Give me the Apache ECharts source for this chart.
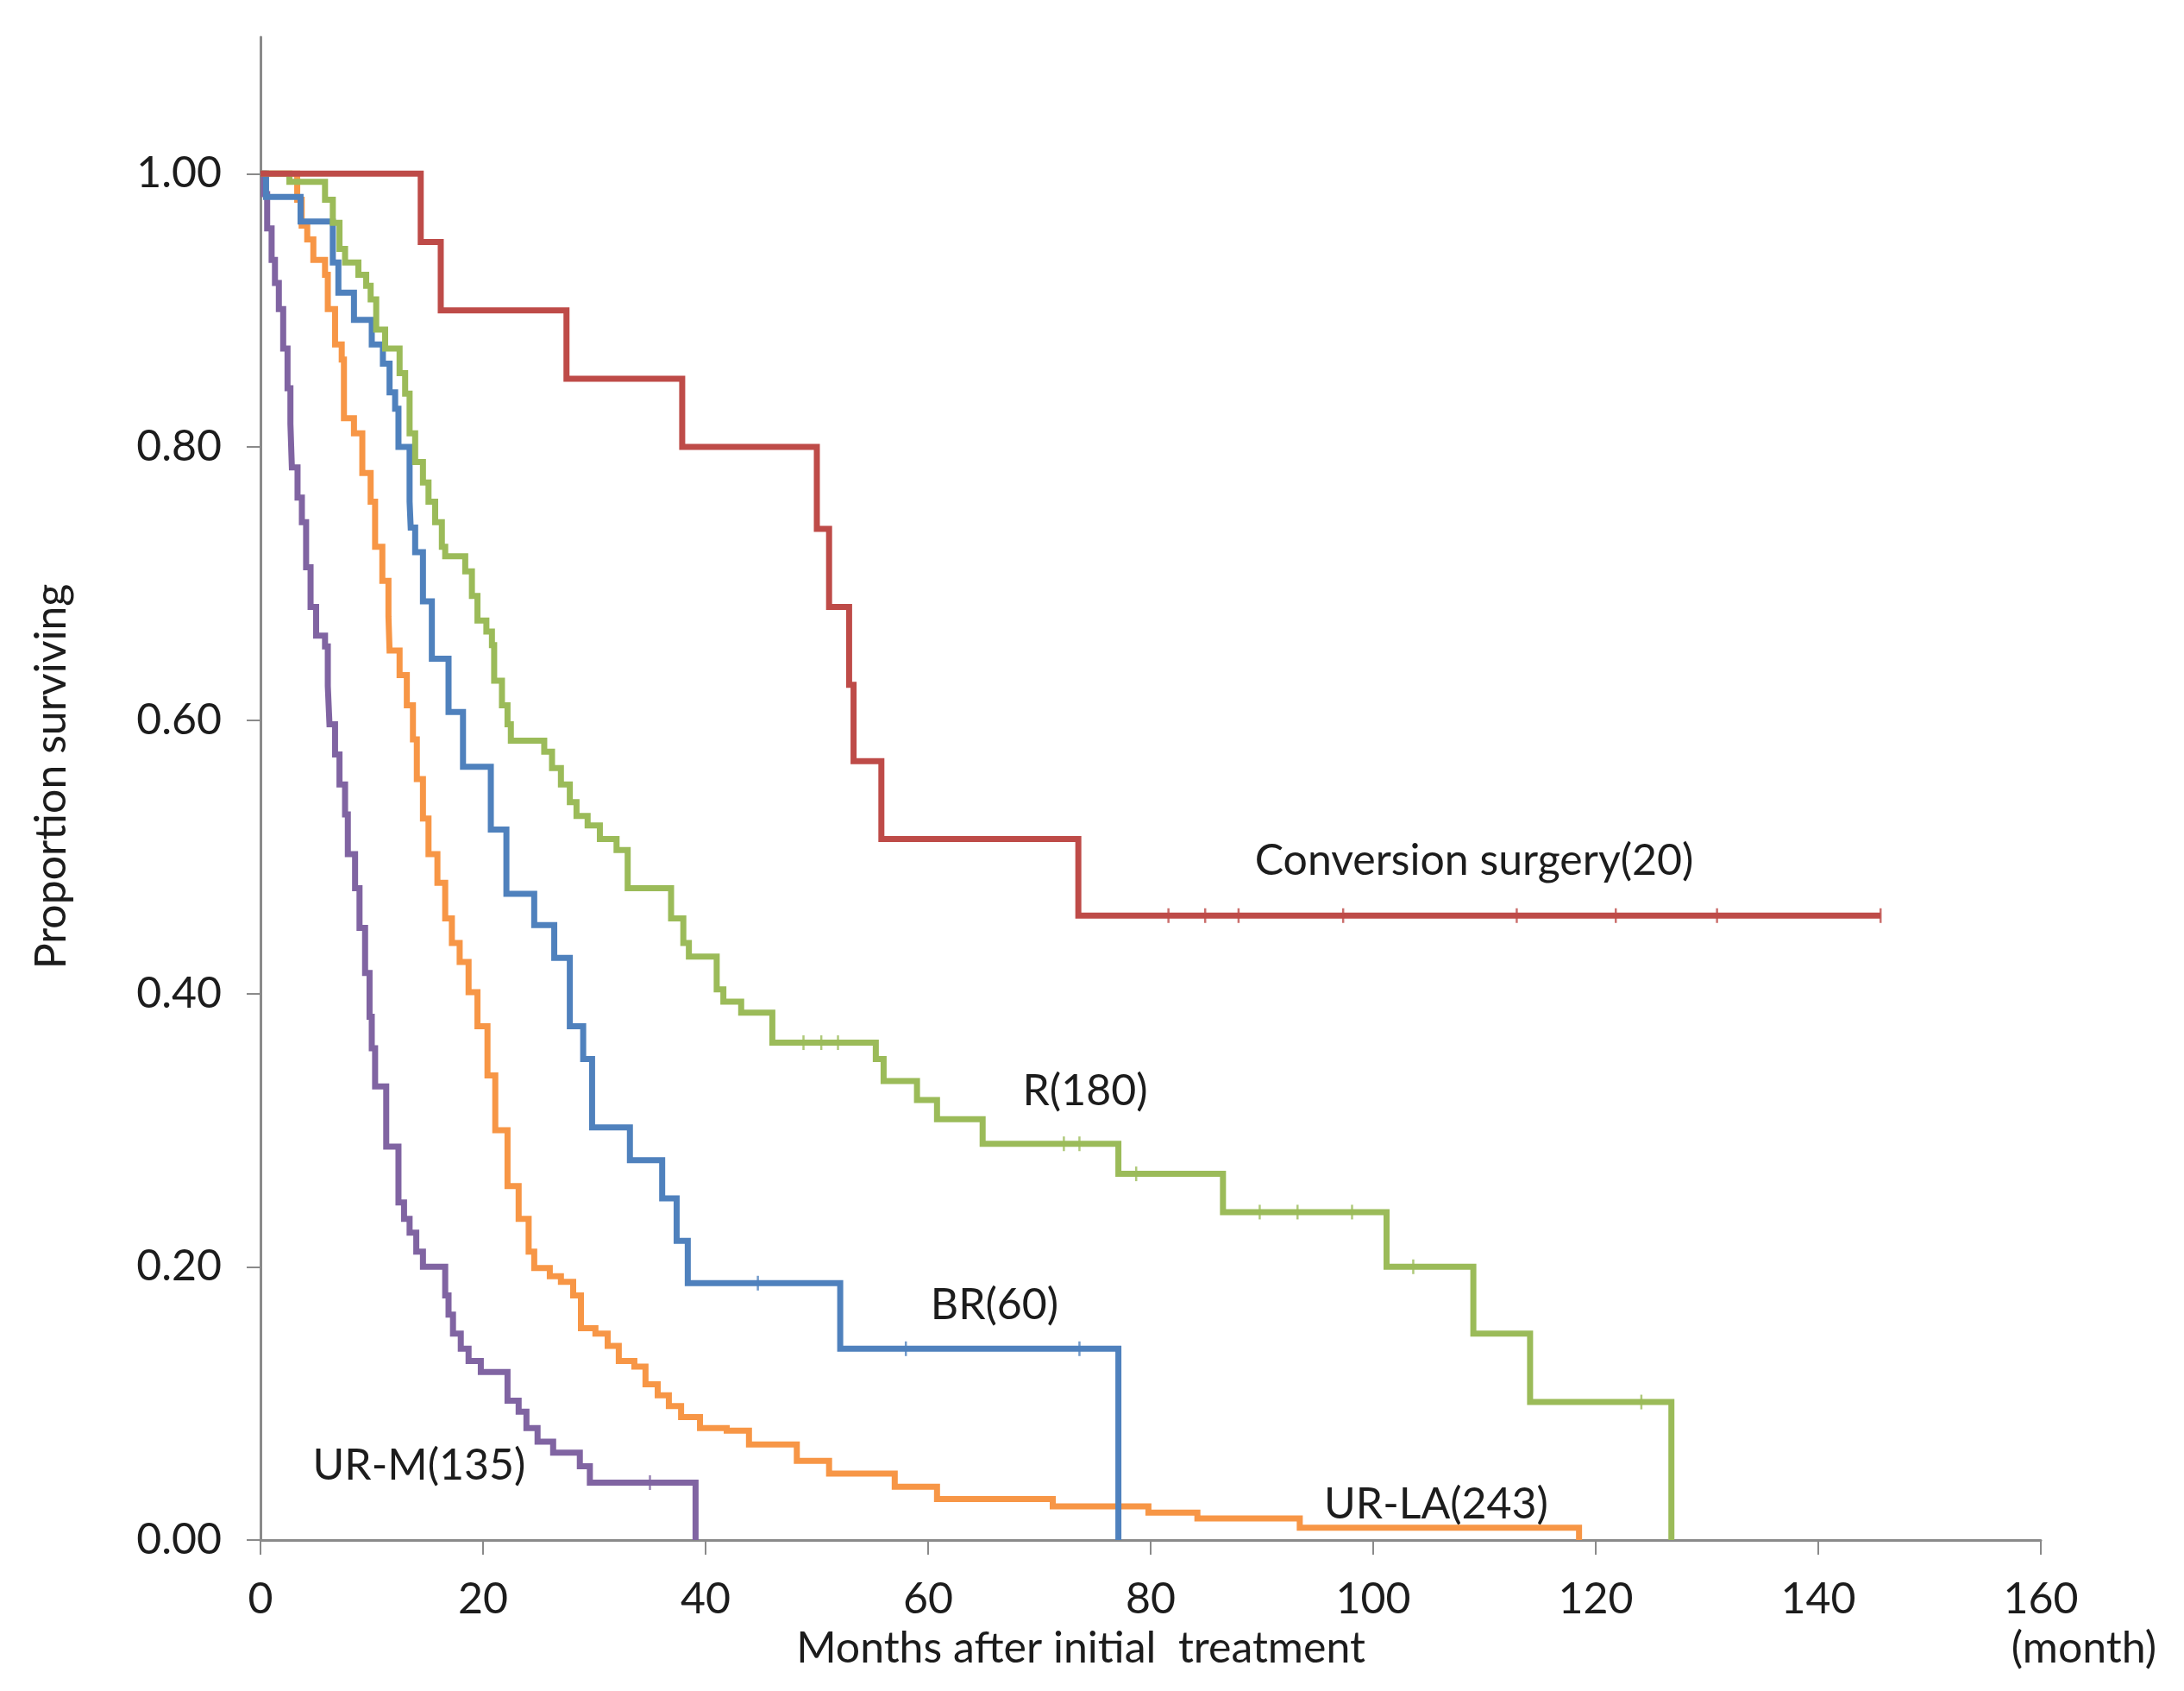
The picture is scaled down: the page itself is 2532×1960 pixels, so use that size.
<!DOCTYPE html>
<html>
<head>
<meta charset="utf-8">
<script src="https://cdn.jsdelivr.net/npm/echarts@6/dist/echarts.min.js"></script>
<style>
  html, body { margin: 0; padding: 0; background: #ffffff; }
  #chart { width: 2532px; height: 1960px; }
</style>
</head>
<body>
<div id="chart"></div>
<script>
// ---- Data (months after initial treatment, proportion surviving after each step) ----
const yTickValues = [0, 0.2, 0.4, 0.6, 0.8, 1.0];

const csTime = [0, 14.4, 16.2, 27.5, 37.9, 50.0, 51.1, 52.9, 53.3, 55.8, 73.5, 145.6];
const csSurv = [1.0, 0.95, 0.90, 0.85, 0.80, 0.74, 0.683, 0.626, 0.57, 0.513, 0.457, 0.457];
const csCensorTime = [81.6, 84.9, 87.9, 97.3, 112.9, 121.8, 130.9, 145.6];
const csCensorSurv = [0.457, 0.457, 0.457, 0.457, 0.457, 0.457, 0.457, 0.457];

const rTime = [0, 2.6, 5.8, 6.5, 7.1, 7.6, 8.8, 9.5, 9.9, 10.4, 11.2, 12.5, 13.0, 13.4, 13.9, 14.6, 15.1, 15.7, 16.3, 16.6, 18.4, 19.0, 19.5, 20.3, 20.8, 21.0, 21.7, 22.2, 22.5, 25.5, 26.2, 27.0, 27.8, 28.4, 29.4, 30.5, 32.0, 33.0, 36.9, 38.0, 38.5, 41.0, 41.6, 43.2, 46.0, 55.3, 56.0, 59.0, 60.8, 64.9, 77.1, 86.5, 101.2, 109.0, 114.1, 126.8];
const rSurv = [1.0, 0.994, 0.981, 0.964, 0.945, 0.935, 0.926, 0.918, 0.908, 0.886, 0.872, 0.854, 0.839, 0.81, 0.789, 0.774, 0.76, 0.745, 0.727, 0.72, 0.709, 0.691, 0.673, 0.665, 0.655, 0.629, 0.611, 0.597, 0.585, 0.577, 0.565, 0.553, 0.54, 0.53, 0.523, 0.513, 0.505, 0.477, 0.455, 0.437, 0.427, 0.403, 0.394, 0.386, 0.364, 0.352, 0.336, 0.322, 0.308, 0.29, 0.268, 0.24, 0.20, 0.151, 0.101, 0];
const rCensorTime = [48.8, 50.4, 51.9, 72.2, 73.6, 78.7, 89.8, 93.2, 98.1, 103.6, 124.1];
const rCensorSurv = [0.364, 0.364, 0.364, 0.29, 0.29, 0.268, 0.24, 0.24, 0.24, 0.20, 0.101];

const brTime = [0, 0.5, 3.6, 6.5, 7.0, 8.4, 10.0, 11.0, 11.6, 12.1, 12.4, 13.4, 13.5, 13.9, 14.6, 15.4, 16.9, 18.2, 20.7, 22.1, 24.6, 26.4, 27.8, 29.0, 29.8, 33.2, 36.1, 37.4, 38.4, 52.1, 77.1];
const brSurv = [1.0, 0.983, 0.965, 0.935, 0.913, 0.893, 0.875, 0.861, 0.84, 0.828, 0.80, 0.76, 0.741, 0.723, 0.687, 0.645, 0.606, 0.566, 0.52, 0.473, 0.45, 0.426, 0.376, 0.352, 0.302, 0.278, 0.25, 0.219, 0.188, 0.14, 0];
const brCensorTime = [44.7, 58.0, 73.6];
const brCensorSurv = [0.188, 0.14, 0.14];

const laTime = [0, 3.3, 3.7, 4.2, 4.75, 5.8, 6.05, 6.7, 7.3, 7.5, 8.4, 9.15, 9.9, 10.3, 10.95, 11.5, 11.6, 12.5, 13.15, 13.7, 14.05, 14.6, 15.1, 15.9, 16.6, 17.2, 17.9, 18.7, 19.5, 20.4, 21.1, 22.2, 23.2, 24.1, 24.6, 26.0, 27.0, 28.1, 28.8, 30.1, 31.2, 32.2, 33.6, 34.6, 35.7, 36.7, 37.8, 39.5, 41.9, 43.9, 48.2, 51.1, 57.0, 60.8, 71.2, 79.8, 84.2, 93.4, 118.5];
const laSurv = [1.0, 0.981, 0.962, 0.952, 0.937, 0.926, 0.901, 0.875, 0.864, 0.821, 0.81, 0.781, 0.76, 0.727, 0.702, 0.676, 0.651, 0.633, 0.611, 0.586, 0.557, 0.528, 0.502, 0.481, 0.455, 0.437, 0.423, 0.401, 0.376, 0.34, 0.30, 0.259, 0.235, 0.211, 0.199, 0.193, 0.189, 0.179, 0.155, 0.151, 0.142, 0.131, 0.127, 0.114, 0.106, 0.098, 0.09, 0.082, 0.08, 0.07, 0.058, 0.0486, 0.039, 0.030, 0.0246, 0.020, 0.0158, 0.009, 0];

const umTime = [0, 0.3, 0.6, 1.0, 1.3, 1.65, 2.04, 2.43, 2.69, 2.82, 3.33, 3.72, 4.1, 4.5, 5.0, 5.8, 6.05, 6.2, 6.7, 7.1, 7.6, 7.85, 8.5, 8.9, 9.4, 9.8, 10.0, 10.3, 11.3, 12.4, 12.9, 13.4, 14.0, 14.6, 16.6, 16.9, 17.3, 18.0, 18.7, 19.8, 22.2, 23.2, 23.9, 24.9, 26.3, 28.7, 29.6, 39.1];
const umSurv = [1.0, 0.985, 0.96, 0.937, 0.92, 0.901, 0.872, 0.843, 0.817, 0.785, 0.763, 0.745, 0.712, 0.683, 0.662, 0.654, 0.625, 0.597, 0.575, 0.553, 0.531, 0.502, 0.477, 0.448, 0.415, 0.383, 0.36, 0.332, 0.288, 0.247, 0.235, 0.225, 0.211, 0.20, 0.179, 0.165, 0.151, 0.14, 0.131, 0.123, 0.102, 0.094, 0.082, 0.072, 0.064, 0.054, 0.042, 0];
const umCensorTime = [35.0];
const umCensorSurv = [0.042];

const seriesNames = ['UR-M(135)', 'UR-LA(243)', 'BR(60)', 'R(180)', 'Conversion surgery(20)'];

// ---- Build chart ----
const FONT = 'Lato, "Open Sans", sans-serif';
const TEXT = '#1c1c1c';
const AXIS = '#8a8a8a';
const COLORS = {
  cs: '#BE4B48',
  r: '#9BBB59',
  br: '#4F81BD',
  la: '#F79646',
  um: '#8064A2'
};

function pairs(t, s) { return t.map(function (v, i) { return [v, s[i]]; }); }

function kmLine(name, t, s, color, z) {
  return {
    name: name, type: 'line', step: 'end', showSymbol: false, symbol: 'none',
    data: pairs(t, s), z: z,
    lineStyle: { color: color, width: 7, cap: 'butt', join: 'miter' },
    emphasis: { disabled: true }, silent: true
  };
}
function censor(t, s, color, z) {
  return {
    type: 'scatter', data: pairs(t, s), symbol: 'rect', symbolSize: [2.5, 17],
    itemStyle: { color: color }, z: z, silent: true
  };
}

const chart = echarts.init(document.getElementById('chart'), null, { renderer: 'canvas' });

function label(text, x, y, rot) {
  return { type: 'text', x: x, y: y, rotation: rot || 0,
    style: { text: text, fill: TEXT, font: '50px ' + FONT, textAlign: 'center', textVerticalAlign: 'middle' } };
}

const option = {
  animation: false,
  backgroundColor: '#ffffff',
  grid: { left: 302, right: 166, top: 43, bottom: 175, containLabel: false },
  xAxis: {
    type: 'value', min: 0, max: 160, interval: 20,
    axisLine: { show: true, onZero: false, lineStyle: { color: AXIS, width: 3 } },
    axisTick: { show: true, inside: false, length: 17, lineStyle: { color: AXIS, width: 2 } },
    axisLabel: { color: TEXT, fontFamily: FONT, fontSize: 50, margin: 44 },
    splitLine: { show: false }
  },
  yAxis: {
    type: 'value', min: 0, max: 1.1,
    axisLine: { show: true, lineStyle: { color: AXIS, width: 3 } },
    axisTick: { show: true, inside: false, length: 16, lineStyle: { color: AXIS, width: 2 }, customValues: yTickValues },
    axisLabel: {
      color: TEXT, fontFamily: FONT, fontSize: 50, margin: 45, customValues: yTickValues,
      formatter: function (v) { return v.toFixed(2); }
    },
    splitLine: { show: false }
  },
  series: [
    kmLine(seriesNames[0], umTime, umSurv, COLORS.um, 2),
    kmLine(seriesNames[1], laTime, laSurv, COLORS.la, 3),
    kmLine(seriesNames[2], brTime, brSurv, COLORS.br, 4),
    kmLine(seriesNames[3], rTime, rSurv, COLORS.r, 5),
    kmLine(seriesNames[4], csTime, csSurv, COLORS.cs, 6),
    censor(umCensorTime, umCensorSurv, COLORS.um, 2),
    censor(brCensorTime, brCensorSurv, COLORS.br, 4),
    censor(rCensorTime, rCensorSurv, COLORS.r, 5),
    censor(csCensorTime, csCensorSurv, COLORS.cs, 6)
  ],
  graphic: [
    label('Proportion surviving', 60, 900, Math.PI / 2),
    label('Months after initial  treatment', 1253, 1911),
    label('(month)', 2416, 1911),
    label(seriesNames[4], 1709, 998),
    label(seriesNames[3], 1258, 1265),
    label(seriesNames[2], 1153, 1513),
    label(seriesNames[0], 486, 1699),
    label(seriesNames[1], 1665, 1744)
  ]
};
chart.setOption(option);
</script>
</body>
</html>
